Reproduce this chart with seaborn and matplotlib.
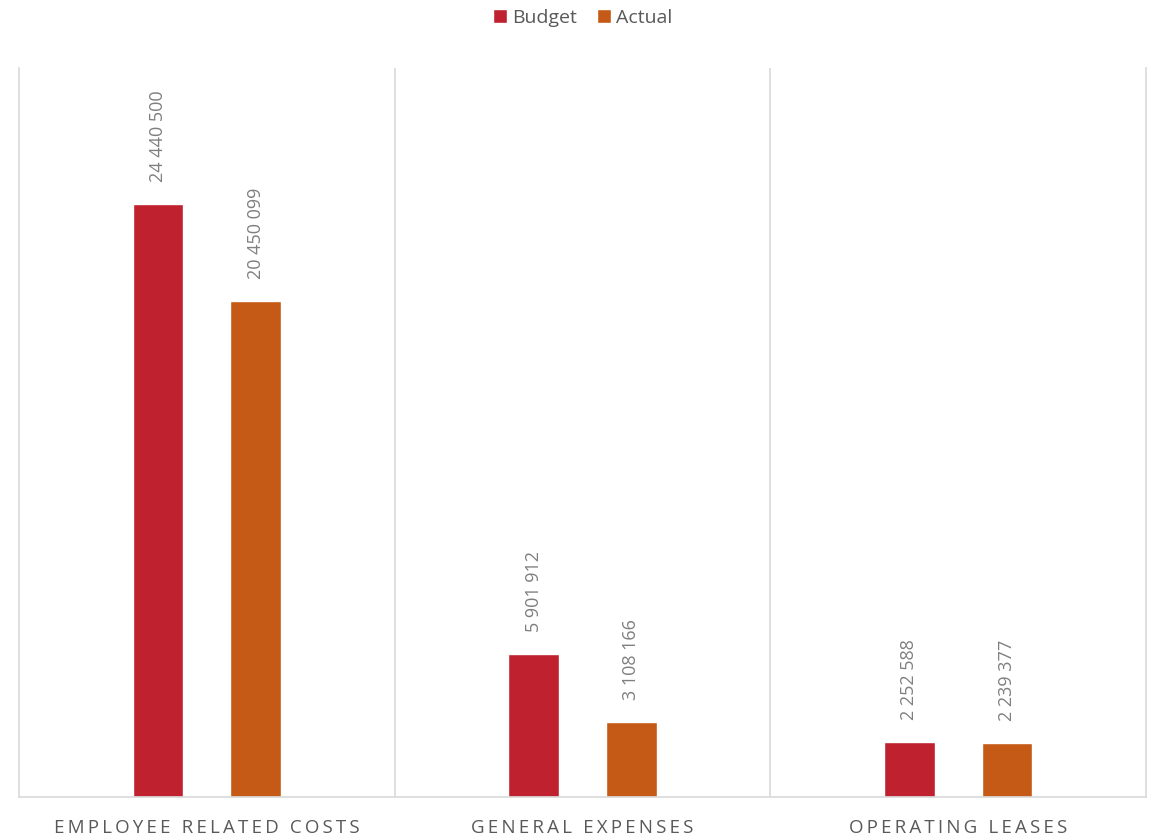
import matplotlib
matplotlib.use("Agg")
import matplotlib.pyplot as plt
import seaborn as sns
import pandas as pd

categories = ["EMPLOYEE RELATED COSTS", "GENERAL EXPENSES", "OPERATING LEASES"]
budget = [24440500, 5901912, 2252588]
actual = [20450099, 3108166, 2239377]
series = ["Budget", "Actual"]
colors = {"Budget": "#C0212E", "Actual": "#C55A16"}

df = pd.DataFrame({
    "category": categories * 2,
    "series": ["Budget"] * 3 + ["Actual"] * 3,
    "value": budget + actual,
})

sns.set_theme(style="white")
plt.rcParams["font.family"] = ["Open Sans", "DejaVu Sans"]

fig = plt.figure(figsize=(11.6, 8.36), dpi=100)
ax = fig.add_axes([0.0164, 0.0467, 0.9716, 0.872])

sns.barplot(data=df, x="category", y="value", hue="series", hue_order=series,
            palette=colors, width=0.52, gap=0.48, saturation=1, ax=ax)

ax.set_ylim(0, 30050000)
ax.set_xlim(-0.5, 2.5)
ax.set_yticks([])
ax.set_xlabel("")
ax.set_ylabel("")

grid = "#D9D9D9"
for side in ["left", "right", "bottom"]:
    ax.spines[side].set_color(grid)
    ax.spines[side].set_linewidth(1.2)
ax.spines["top"].set_visible(False)
for x in [0.5, 1.5]:
    ax.axvline(x, color=grid, lw=1.2, zorder=0)

# spaced-out category labels (Excel-style letter spacing)
spaced = ["\u2009".join(c) for c in categories]
ax.set_xticks(range(len(categories)))
ax.set_xticklabels(spaced, fontsize=13.5, color="#595959")
ax.tick_params(axis="x", length=0, pad=16)

for cont in ax.containers:
    for bar in cont:
        v = bar.get_height()
        ax.annotate(f"{int(round(v)):,}".replace(",", " "),
                    (bar.get_x() + bar.get_width() / 2, v),
                    xytext=(0, 22), textcoords="offset pixels",
                    rotation=90, ha="center", va="bottom",
                    fontsize=13, color="#7F7F7F")

ax.legend(loc="upper center", bbox_to_anchor=(0.5, 1.105), ncol=2, frameon=False,
          fontsize=14, handlelength=0.75, handleheight=0.75, handletextpad=0.25,
          columnspacing=1.0, labelcolor="#595959")

fig.savefig("out.png", dpi=100)
